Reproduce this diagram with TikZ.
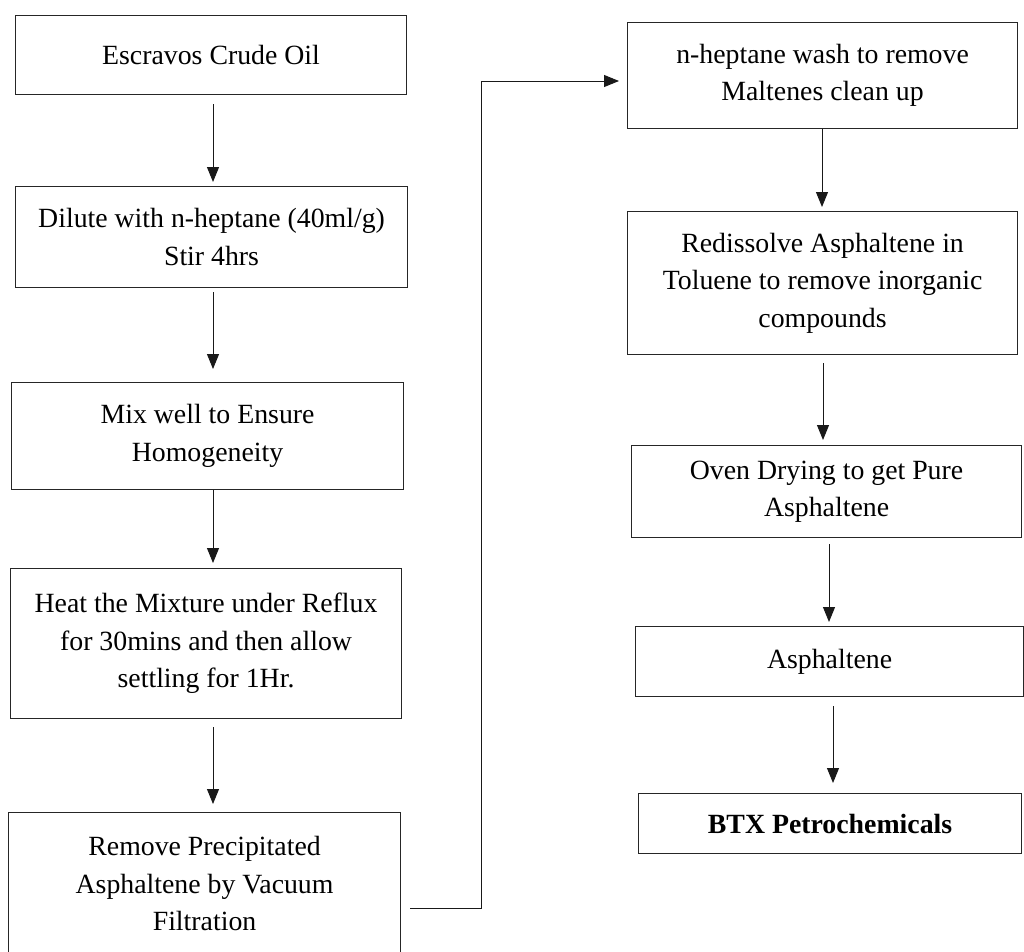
\documentclass[tikz,border=0pt]{standalone}
\usepackage{fontspec}
\setmainfont{Liberation Serif}
\usetikzlibrary{arrows.meta,calc}
\tikzset{
  stepbox/.style={draw=black!85, line width=1.1pt, align=center, inner sep=0pt,
    anchor=north west, font=\fontsize{27.8pt}{37.5pt}\selectfont},
  arr/.style={draw=black!90, line width=1pt, -{Triangle[width=12pt,length=15pt]}},
  link/.style={draw=black!90, line width=1pt}
}
\begin{document}
\begin{tikzpicture}[x=1pt,y=-1pt]
\useasboundingbox (0,0) rectangle (1024,951);
% left column
\node[stepbox, minimum width=391pt, minimum height=79pt] (b1) at (15,15) {Escravos Crude Oil};
\node[stepbox, minimum width=392pt, minimum height=101pt] (b2) at (15,186) {Dilute with n-heptane (40ml/g)\\Stir 4hrs};
\node[stepbox, minimum width=392pt, minimum height=107pt] (b3) at (11,382) {Mix well to Ensure\\Homogeneity};
\node[stepbox, minimum width=391pt, minimum height=150pt] (b4) at (10,568) {Heat the Mixture under Reflux\\for 30mins and then allow\\settling for 1Hr.};
\node[stepbox, minimum width=392pt, minimum height=142pt] (b5) at (8,812) {Remove Precipitated\\Asphaltene by Vacuum\\Filtration};
% right column
\node[stepbox, minimum width=390pt, minimum height=106pt] (b6) at (627,22) {n-heptane wash to remove\\Maltenes clean up};
\node[stepbox, minimum width=390pt, minimum height=143pt] (b7) at (627,211) {Redissolve Asphaltene in\\Toluene to remove inorganic\\compounds};
\node[stepbox, minimum width=390pt, minimum height=92pt] (b8) at (631,445) {Oven Drying to get Pure\\Asphaltene};
\node[stepbox, minimum width=388pt, minimum height=70pt] (b9) at (635,626) {Asphaltene};
\node[stepbox, minimum width=383pt, minimum height=60pt] (b10) at (638,793) {\bfseries BTX Petrochemicals};
% arrow columns
\coordinate (xa) at (213,0);
\coordinate (xb) at (822,0);
\coordinate (xc) at (823,0);
\coordinate (xd) at (829,0);
\coordinate (xe) at (833,0);
\draw[arr, shorten <=9pt, shorten >=4pt] (b1.south -| xa) -- (b2.north -| xa);
\draw[arr, shorten <=4pt, shorten >=13pt] (b2.south -| xa) -- (b3.north -| xa);
\draw[arr, shorten >=5pt] (b3.south -| xa) -- (b4.north -| xa);
\draw[arr, shorten <=8pt, shorten >=8pt] (b4.south -| xa) -- (b5.north -| xa);
\draw[arr, shorten >=4pt] (b6.south -| xb) -- (b7.north -| xb);
\draw[arr, shorten <=8pt, shorten >=5pt] (b7.south -| xc) -- (b8.north -| xc);
\draw[arr, shorten <=6pt, shorten >=4pt] (b8.south -| xd) -- (b9.north -| xd);
\draw[arr, shorten <=9pt, shorten >=10pt] (b9.south -| xe) -- (b10.north -| xe);
% connector from the last left box to the first right box
\coordinate (j1) at (481,908);
\coordinate (j2) at (481,81);
\draw[link, shorten <=9pt] (b5.east |- j1) -- (j1) -- (j2);
\draw[arr, shorten >=8pt] (j2) -- (b6.west |- j2);
\end{tikzpicture}
\end{document}
